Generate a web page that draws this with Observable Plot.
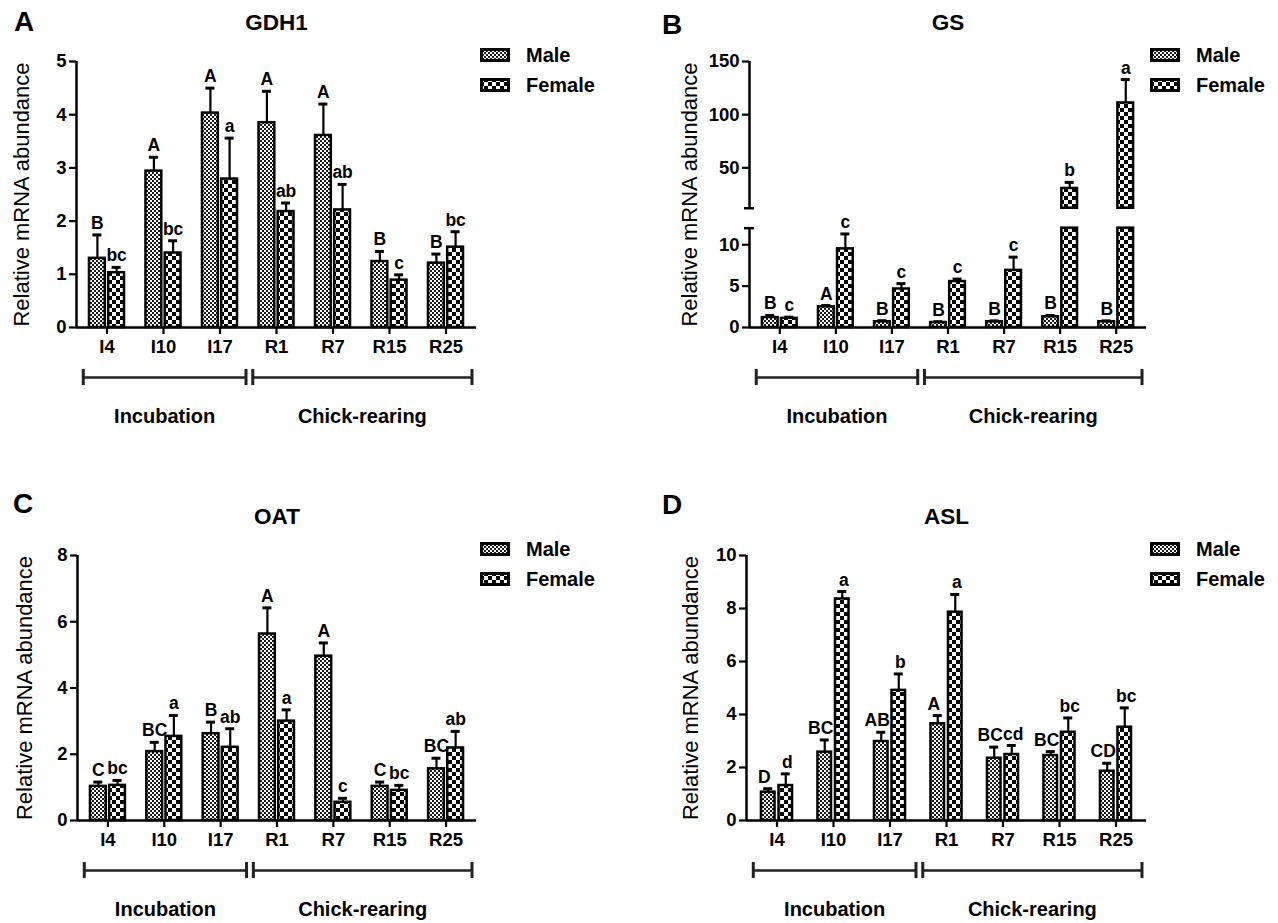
<!DOCTYPE html>
<html><head><meta charset="utf-8">
<script src="https://cdn.jsdelivr.net/npm/d3@7"></script>
<script src="https://cdn.jsdelivr.net/npm/@observablehq/plot@0.6"></script>
<style>
body{margin:0;background:#fff;font-family:"Liberation Sans",Arial,sans-serif;color:#000;}
#root{position:relative;width:1278px;height:923px;overflow:hidden;background:#fff;}
.panel{position:absolute;}
.letter{position:absolute;font-weight:bold;font-size:28px;line-height:1;transform:translate(-50%,-50%);}
.legend{position:absolute;font-weight:bold;font-size:20px;}
.legend .row{display:flex;align-items:center;height:30px;}
.legend .row span{margin-left:16px;}
</style></head><body>
<svg width="0" height="0" style="position:absolute">
<defs>
<pattern id="pMale" width="4" height="4" patternUnits="userSpaceOnUse">
 <rect width="4" height="4" fill="#fff"/><rect width="2" height="2" fill="#1a1a1a"/><rect x="2" y="2" width="2" height="2" fill="#1a1a1a"/>
</pattern>
<pattern id="pFemale" width="8" height="8" patternUnits="userSpaceOnUse">
 <rect width="8" height="8" fill="#000"/><rect width="4" height="4" fill="#fff"/><rect x="4" y="4" width="4" height="4" fill="#fff"/>
</pattern>
</defs></svg>
<div id="root"></div>
<script>
// ---------- data ----------
const categories = ["I4","I10","I17","R1","R7","R15","R25"];
const sexes = ["Male","Female"];
const periods = ["Incubation","Chick-rearing"];
const periodFrom = ["I4","R1"];
const periodTo = ["I17","R25"];
const yLabel = "Relative mRNA abundance";

// A: GDH1
const gdh1Male = [1.30, 2.94, 4.03, 3.85, 3.61, 1.24, 1.21];
const gdh1MaleErr = [0.44, 0.26, 0.47, 0.59, 0.59, 0.19, 0.17];
const gdh1Female = [1.03, 1.40, 2.79, 2.18, 2.21, 0.89, 1.51];
const gdh1FemaleErr = [0.10, 0.23, 0.77, 0.16, 0.48, 0.10, 0.29];
const gdh1MaleLetters = ["B","A","A","A","A","B","B"];
const gdh1FemaleLetters = ["bc","bc","a","ab","ab","c","bc"];
const gdh1Ticks = [0,1,2,3,4,5];

// B: GS (broken axis 0-12 | 12-150)
const gsMale = [1.2, 2.5, 0.7, 0.6, 0.7, 1.3, 0.7];
const gsMaleErr = [0.25, 0.15, 0.12, 0.1, 0.1, 0.15, 0.1];
const gsFemale = [1.1, 9.5, 4.65, 5.55, 6.9, 30.6, 111];
const gsFemaleErr = [0.15, 1.8, 0.65, 0.3, 1.6, 5.7, 22];
const gsMaleLetters = ["B","A","B","B","B","B","B"];
const gsFemaleLetters = ["c","c","c","c","c","b","a"];
const gsTicks = [0,5,10,50,100,150];

// C: OAT
const oatMale = [1.03, 2.08, 2.62, 5.63, 4.96, 1.03, 1.56];
const oatMaleErr = [0.13, 0.28, 0.35, 0.79, 0.40, 0.13, 0.32];
const oatFemale = [1.06, 2.54, 2.21, 3.00, 0.55, 0.91, 2.19];
const oatFemaleErr = [0.15, 0.63, 0.56, 0.34, 0.12, 0.15, 0.50];
const oatMaleLetters = ["C","BC","B","A","A","C","BC"];
const oatFemaleLetters = ["bc","a","ab","a","c","bc","ab"];
const oatTicks = [0,2,4,6,8];

// D: ASL
const aslMale = [1.07, 2.58, 2.98, 3.65, 2.35, 2.45, 1.86];
const aslMaleErr = [0.13, 0.46, 0.35, 0.31, 0.42, 0.15, 0.30];
const aslFemale = [1.32, 8.36, 4.91, 7.86, 2.49, 3.33, 3.52];
const aslFemaleErr = [0.44, 0.28, 0.62, 0.67, 0.34, 0.54, 0.73];
const aslMaleLetters = ["D","BC","AB","A","BC","BC","CD"];
const aslFemaleLetters = ["d","a","b","a","cd","bc","bc"];
const aslTicks = [0,2,4,6,8,10];

// ---------- layout ----------
const FONT = '"Liberation Sans", Arial, sans-serif';
const X_DOMAIN = [-0.54, 6.54];
const panels = [
  {id:"A", title:"GDH1", male:gdh1Male, maleErr:gdh1MaleErr, female:gdh1Female, femaleErr:gdh1FemaleErr,
   ml:gdh1MaleLetters, fl:gdh1FemaleLetters, ticks:gdh1Ticks, barOff:0.17, barHW:0.14, mDx:0, fDx:0,
   left:0, top:0, w:640, h:460, mL:76, mR:164, mT:61, mB:133, labelDx:-55, letterX:24, letterY:22},
  {id:"B", title:"GS", male:gsMale, maleErr:gsMaleErr, female:gsFemale, femaleErr:gsFemaleErr,
   ml:gsMaleLetters, fl:gsFemaleLetters, ticks:gsTicks, barOff:0.17, barHW:0.14, mDx:0, fDx:0, brk:{at:12, gapPx:20, lowPxPerUnit:8.3, upPxPerUnit:1.066},
   left:640, top:0, w:638, h:460, mL:109, mR:132, mT:61, mB:133, labelDx:-60, letterX:672, letterY:25},
  {id:"C", title:"OAT", male:oatMale, maleErr:oatMaleErr, female:oatFemale, femaleErr:oatFemaleErr,
   ml:oatMaleLetters, fl:oatFemaleLetters, ticks:oatTicks, barOff:0.17, barHW:0.14, mDx:0, fDx:0,
   left:0, top:460, w:640, h:463, mL:77, mR:164, mT:95, mB:103, labelDx:-53, letterX:23, letterY:504},
  {id:"D", title:"ASL", male:aslMale, maleErr:aslMaleErr, female:aslFemale, femaleErr:aslFemaleErr,
   ml:aslMaleLetters, fl:aslFemaleLetters, ticks:aslTicks, barOff:0.155, barHW:0.12, mDx:-4, fDx:1.5,
   left:640, top:460, w:638, h:463, mL:106, mR:132, mT:95, mB:103, labelDx:-56, letterX:672, letterY:505}
];

const root = document.getElementById("root");

function drawPanel(p) {
  const brk = p.brk;
  let f = v => v, yTop = d3.max(p.ticks), gapU = 0;
  if (brk) {
    gapU = brk.gapPx / brk.lowPxPerUnit;
    const k = brk.upPxPerUnit / brk.lowPxPerUnit;
    f = v => v <= brk.at ? v : brk.at + gapU + (v - brk.at) * k;
  }
  const yMax = f(yTop);
  const rows = categories.flatMap((c, i) => [
    {sex: sexes[0], cx: i - p.barOff, mean: p.male[i], err: p.maleErr[i], letter: p.ml[i]},
    {sex: sexes[1], cx: i + p.barOff, mean: p.female[i], err: p.femaleErr[i], letter: p.fl[i]}
  ]);
  const segs = [];
  for (const r of rows) {
    if (brk && r.mean > brk.at) {
      segs.push({...r, y1: 0, y2: brk.at});
      segs.push({...r, y1: brk.at + gapU, y2: f(r.mean)});
    } else segs.push({...r, y1: 0, y2: f(r.mean)});
  }
  const axisSegs = brk ? [[0, brk.at], [brk.at + gapU, yMax]] : [[0, yMax]];
  const brkEnds = brk ? [brk.at, brk.at + gapU] : [];
  const tickMap = new Map(p.ticks.map(t => [f(t), String(t)]));
  const idx = c => categories.indexOf(c);
  const periodRows = periods.map((name, j) => ({name, x1: idx(periodFrom[j]) - 0.42, x2: idx(periodTo[j]) + 0.46}));
  const bracketEnds = periodRows.flatMap(d => [d.x1, d.x2]);
  const x0 = X_DOMAIN[0], x1 = X_DOMAIN[1];
  const hw = p.barHW;
  const letterStyle = {x: "cx", y: d => f(d.mean + d.err), text: "letter", dy: -6, lineAnchor: "bottom", fontSize: 17.5, fontWeight: "bold", fill: "#000"};

  const plot = Plot.plot({
    width: p.w, height: p.h,
    marginLeft: p.mL, marginRight: p.mR, marginTop: p.mT, marginBottom: p.mB,
    style: {fontFamily: FONT, fontSize: "18.5px", fontWeight: "bold", color: "#000", background: "transparent", overflow: "visible"},
    x: {type: "linear", domain: X_DOMAIN, ticks: d3.range(categories.length), tickFormat: i => categories[i], tickSize: 7, tickPadding: 5, label: null},
    y: {type: "linear", domain: [0, yMax], ticks: p.ticks.map(f), tickFormat: v => tickMap.get(v) ?? "", tickSize: 7, tickPadding: 3, label: null},
    marks: [
      Plot.rect(segs.filter(d => d.sex === "Male"), {x1: d => d.cx - hw, x2: d => d.cx + hw, y1: "y1", y2: "y2", fill: "url(#pMale)", stroke: "#000", strokeWidth: 2.5}),
      Plot.rect(segs.filter(d => d.sex === "Female"), {x1: d => d.cx - hw, x2: d => d.cx + hw, y1: "y1", y2: "y2", fill: "url(#pFemale)", stroke: "#000", strokeWidth: 2.5}),
      Plot.ruleX(rows, {x: "cx", y1: d => f(d.mean), y2: d => f(d.mean + d.err), stroke: "#000", strokeWidth: 2.2}),
      Plot.ruleY(rows, {y: d => f(d.mean + d.err), x1: "cx", x2: "cx", insetLeft: -4.5, insetRight: -4.5, stroke: "#000", strokeWidth: 3}),
      Plot.text(rows.filter(d => d.sex === "Male"), {...letterStyle, dx: p.mDx}),
      Plot.text(rows.filter(d => d.sex === "Female"), {...letterStyle, dx: p.fDx}),
      Plot.ruleX(axisSegs, {x: () => x0, y1: d => d[0], y2: d => d[1], stroke: "#000", strokeWidth: 2.5}),
      Plot.ruleY(brkEnds, {y: d => d, x1: () => x0, x2: () => x0, insetLeft: -5, insetRight: -5, stroke: "#000", strokeWidth: 2.5}),
      Plot.ruleY([0], {x1: () => x0, x2: () => x1, stroke: "#000", strokeWidth: 2.5}),
      Plot.ruleY(periodRows, {y: () => 0, x1: "x1", x2: "x2", dy: 50, stroke: "#222", strokeWidth: 2.5}),
      Plot.ruleX(bracketEnds, {x: d => d, y1: () => 0, y2: () => 0, dy: 50, insetTop: -8, insetBottom: -8, stroke: "#222", strokeWidth: 3}),
      Plot.text(periodRows, {x: d => (d.x1 + d.x2) / 2, y: () => 0, text: "name", dy: 89, fontSize: 20, fontWeight: "bold", fill: "#000"}),
      Plot.text([p.title], {frameAnchor: "top", textAnchor: "middle", lineAnchor: "middle", dy: -39, text: d => d, fontSize: 22.5, fontWeight: "bold", fill: "#000"}),
      Plot.text([yLabel], {frameAnchor: "left", textAnchor: "middle", lineAnchor: "middle", dx: p.labelDx, rotate: -90, text: d => d, fontSize: 22, fontWeight: "normal", fill: "#000"})
    ]
  });
  plot.querySelectorAll('g[aria-label*="axis"]').forEach(g => g.setAttribute("stroke-width", "2.2"));

  const div = document.createElement("div");
  div.className = "panel";
  div.style.left = p.left + "px"; div.style.top = p.top + "px";
  div.appendChild(plot);
  root.appendChild(div);

  // panel letter
  const L = document.createElement("div");
  L.className = "letter"; L.textContent = p.id;
  L.style.left = p.letterX + "px"; L.style.top = p.letterY + "px";
  root.appendChild(L);

  // legend
  const lg = document.createElement("div");
  lg.className = "legend";
  lg.style.left = (p.left + p.w - p.mR + 4) + "px";
  lg.style.top = (p.top + p.mT - 6 - 15) + "px";
  sexes.forEach((s, j) => {
    const row = document.createElement("div");
    row.className = "row";
    row.innerHTML = `<svg width="30" height="14"><rect x="1.5" y="1.5" width="27" height="11" fill="url(#${j === 0 ? "pMale" : "pFemale"})" stroke="#000" stroke-width="3"/></svg><span>${s}</span>`;
    lg.appendChild(row);
  });
  root.appendChild(lg);
}
panels.forEach(drawPanel);
</script>
</body></html>
